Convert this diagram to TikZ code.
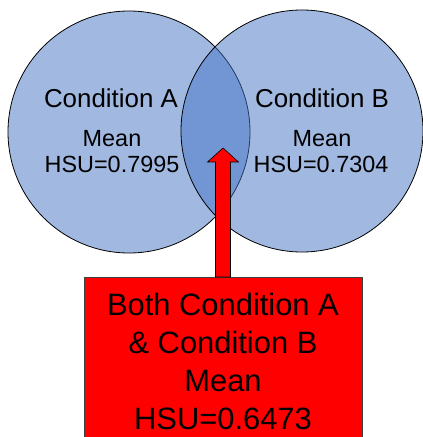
\documentclass[tikz,border=0pt]{standalone}
\usepackage{fontspec}
\setmainfont{Liberation Sans}
\definecolor{vennblue}{HTML}{4472C4}
\definecolor{boxred}{HTML}{FF0000}
\definecolor{boxedge}{HTML}{404040}
\tikzset{
    vennset/.style={circle, draw=black, line width=0.8pt, fill=vennblue,
        fill opacity=0.5, draw opacity=1, minimum size=242bp, inner sep=0pt},
    titletext/.style={anchor=base, inner sep=0pt, font=\fontsize{26}{30}\selectfont},
    valtext/.style={anchor=base, inner sep=0pt, font=\fontsize{23.5}{26}\selectfont},
    bothbox/.style={draw=boxedge, line width=1pt, fill=boxred, anchor=north,
        minimum width=278bp, minimum height=168bp, inner sep=0pt, align=center,
        font=\fontsize{31}{38}\selectfont},
    blockarrow/.style={draw=black, line width=0.6pt, fill=boxred, line join=miter},
}
\begin{document}
\begin{tikzpicture}[x=1bp, y=-1bp]
    \useasboundingbox (0,0) rectangle (422,437);
    \node[vennset] (setA) at (129,132) {};
    \node[vennset] (setB) at (302,131) {};
    \foreach \x/\y/\txt/\name in {
        111/108/Condition A/condA, 322/108/Condition B/condB
     } {
        \node[titletext] (\name) at (\x, \y) {\txt};
    }
    \foreach \x/\y/\txt/\name in {
        112/147/Mean/meanA,       322/147/Mean/meanB,
        112/173/HSU=0.7995/hsuA,  321/173/HSU=0.7304/hsuB
     } {
        \node[valtext] (\name) at (\x, \y) {\txt};
    }

    \node[bothbox] (both) at (223,277)
        {Both Condition A\\\& Condition B\\Mean\\HSU=0.6473};
    \coordinate (tip) at (223,148);
    \draw[blockarrow] (both.north) ++(-7.5,0) -- ++(0,-115) -- ++(-8,0) -- (tip)
        -- ++(15.5,14) -- ++(-8,0) -- ++(0,115) -- cycle;
\end{tikzpicture}
\end{document}
